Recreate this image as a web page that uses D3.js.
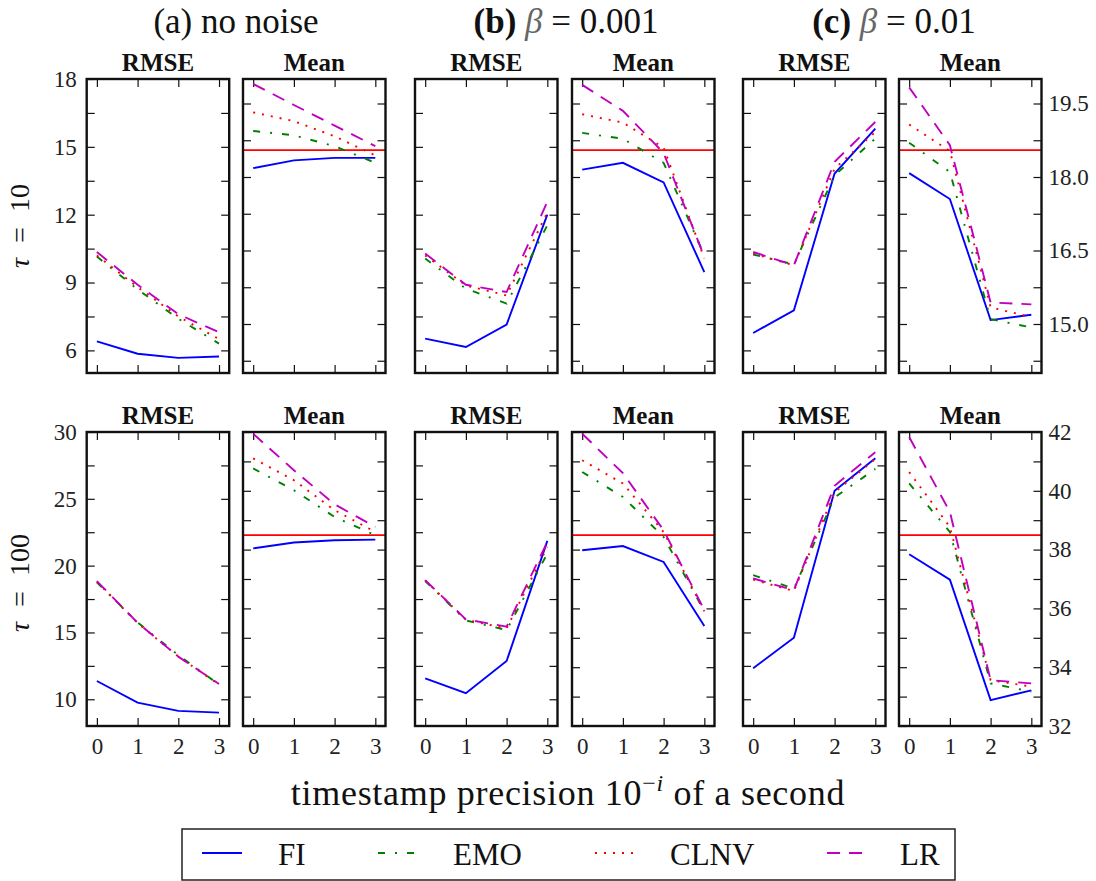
<!DOCTYPE html>
<html>
<head>
<meta charset="utf-8">
<script src="https://cdn.jsdelivr.net/npm/d3@7"></script>
<style>
  html, body { margin: 0; padding: 0; background: #fff; }
  svg { display: block; font-family: "Liberation Serif", "DejaVu Serif", serif; }
</style>
</head>
<body>
<svg id="chart" width="1096" height="881"></svg>
<script>
// ---------------- data ----------------
const precision = [0, 1, 2, 3];
const methods = ["FI", "EMO", "CLNV", "LR"];
const groupTitles = ["no noise", "0.001", "0.01"];
const metricTitles = ["RMSE", "Mean"];
const tauLabels = ["10", "100"];

// series order inside each panel: FI, EMO, CLNV, LR
const rmseTau10NoNoise = [[6.4, 5.85, 5.67, 5.73], [10.15, 8.7, 7.4, 6.3], [10.2, 8.8, 7.5, 6.5], [10.35, 8.9, 7.6, 6.8]];
const rmseTau10Beta001 = [[6.52, 6.15, 7.14, 12.0], [10.06, 8.73, 8.07, 11.53], [10.2, 8.87, 8.43, 12.1], [10.28, 8.9, 8.58, 12.57]];
const rmseTau10Beta01  = [[6.77, 7.77, 13.82, 15.81], [10.24, 9.8, 13.74, 15.37], [10.28, 9.76, 14.04, 15.66], [10.35, 9.76, 14.34, 16.1]];
const meanTau10NoNoise = [[18.18, 18.34, 18.39, 18.39], [18.94, 18.85, 18.63, 18.29], [19.32, 19.14, 18.83, 18.44], [19.9, 19.47, 19.05, 18.63]];
const meanTau10Beta001 = [[18.15, 18.29, 17.89, 16.06], [18.9, 18.78, 18.29, 16.4], [19.28, 19.11, 18.6, 16.34], [19.88, 19.35, 18.49, 16.37]];
const meanTau10Beta01  = [[18.08, 17.55, 15.08, 15.19], [18.7, 18.1, 15.1, 14.93], [19.07, 18.53, 15.34, 15.14], [19.83, 18.65, 15.44, 15.4]];
const rmseTau100NoNoise = [[11.37, 9.75, 9.13, 9.0], [18.75, 15.75, 13.3, 11.1], [18.8, 15.7, 13.2, 11.1], [18.84, 15.73, 13.19, 11.14]];
const rmseTau100Beta001 = [[11.57, 10.45, 12.86, 21.85], [18.85, 15.9, 15.18, 20.9], [18.9, 15.95, 15.3, 21.4], [18.92, 15.98, 15.43, 21.78]];
const rmseTau100Beta01  = [[12.32, 14.6, 25.6, 28.04], [19.29, 18.29, 25.1, 27.24], [18.95, 18.1, 25.48, 27.99], [19.04, 18.16, 25.98, 28.49]];
const meanTau100NoNoise = [[38.04, 38.24, 38.32, 38.34], [40.76, 40.02, 39.11, 38.49], [41.1, 40.36, 39.34, 38.6], [41.94, 40.7, 39.54, 38.77]];
const meanTau100Beta001 = [[37.98, 38.12, 37.58, 35.4], [40.64, 39.79, 38.43, 35.9], [41.04, 40.25, 38.6, 35.9], [41.94, 40.6, 38.66, 35.94]];
const meanTau100Beta01  = [[37.84, 36.98, 32.88, 33.21], [40.25, 38.6, 33.45, 33.17], [40.64, 38.77, 33.56, 33.34], [41.83, 39.28, 33.56, 33.45]];
const trueMean = [18.55, 38.49];

// axis configuration
const rmseDomains = [[5, 18], [8, 30]];
const meanDomains = [[14, 20], [32, 42]];
const rmseTicksTau10 = [6, 7.5, 9, 10.5, 12, 13.5, 15, 16.5, 18];
const rmseLabelsTau10 = [6, 9, 12, 15, 18];
const meanTicksTau10 = [14.25, 15, 15.75, 16.5, 17.25, 18, 18.75, 19.5];
const meanLabelsTau10 = [15.0, 16.5, 18.0, 19.5];
const rmseTicksTau100 = [10, 12.5, 15, 17.5, 20, 22.5, 25, 27.5, 30];
const rmseLabelsTau100 = [10, 15, 20, 25, 30];
const meanTicksTau100 = [32, 33, 34, 35, 36, 37, 38, 39, 40, 41, 42];
const meanLabelsTau100 = [32, 34, 36, 38, 40, 42];

// ---------------- styles / layout ----------------
const seriesColor = { FI: "#0000ff", EMO: "#008000", CLNV: "#ff0000", LR: "#bf00bf" };
const seriesDash = { FI: null, EMO: "7,10,2,10", CLNV: "2,7", LR: "13,9" };

const panelLefts = [86.7, 243, 415, 572, 743, 899];
const panelW = 142.5, panelH = 294;
const rowTops = [79, 432];
const tickLen = 8;

const svg = d3.select("#chart");

const rows = [
  { rmse: [rmseTau10NoNoise, rmseTau10Beta001, rmseTau10Beta01],
    mean: [meanTau10NoNoise, meanTau10Beta001, meanTau10Beta01],
    rmseTicks: rmseTicksTau10, rmseLabels: rmseLabelsTau10,
    meanTicks: meanTicksTau10, meanLabels: meanLabelsTau10, meanFmt: d3.format(".1f") },
  { rmse: [rmseTau100NoNoise, rmseTau100Beta001, rmseTau100Beta01],
    mean: [meanTau100NoNoise, meanTau100Beta001, meanTau100Beta01],
    rmseTicks: rmseTicksTau100, rmseLabels: rmseLabelsTau100,
    meanTicks: meanTicksTau100, meanLabels: meanLabelsTau100, meanFmt: d3.format("d") }
];

rows.forEach((row, r) => {
  const top = rowTops[r];
  for (let g = 0; g < 3; g++) {
    for (let m = 0; m < 2; m++) {
      const p = g * 2 + m;
      const left = panelLefts[p];
      const x = d3.scaleLinear().domain([-0.25, 3.25]).range([left, left + panelW]);
      const domain = m === 0 ? rmseDomains[r] : meanDomains[r];
      const y = d3.scaleLinear().domain(domain).range([top + panelH, top]);
      const yTicks = m === 0 ? row.rmseTicks : row.meanTicks;
      const panelData = m === 0 ? row.rmse[g] : row.mean[g];
      const gp = svg.append("g");

      // inward ticks on all four sides
      const axes = [
        { a: d3.axisLeft(y).tickValues(yTicks), t: `translate(${left},0)` },
        { a: d3.axisRight(y).tickValues(yTicks), t: `translate(${left + panelW},0)` },
        { a: d3.axisTop(x).tickValues(precision), t: `translate(0,${top})` },
        { a: d3.axisBottom(x).tickValues(precision), t: `translate(0,${top + panelH})` }
      ];
      axes.forEach(o => {
        const ag = gp.append("g").attr("transform", o.t)
          .call(o.a.tickSizeInner(-tickLen).tickSizeOuter(0).tickFormat(""));
        ag.select(".domain").remove();
        ag.selectAll("line").attr("stroke", "#111").attr("stroke-width", 1.2);
      });

      // true mean line
      if (m === 1) {
        gp.append("line")
          .attr("x1", left).attr("x2", left + panelW)
          .attr("y1", y(trueMean[r])).attr("y2", y(trueMean[r]))
          .attr("stroke", "#ff0000").attr("stroke-width", 1.8);
      }

      // series lines
      const line = d3.line().x((d, i) => x(precision[i])).y(d => y(d));
      panelData.forEach((vals, si) => {
        const name = methods[si];
        gp.append("path")
          .datum(vals)
          .attr("d", line)
          .attr("fill", "none")
          .attr("stroke", seriesColor[name])
          .attr("stroke-width", 1.9)
          .attr("stroke-dasharray", seriesDash[name]);
      });

      // frame
      gp.append("rect")
        .attr("x", left).attr("y", top).attr("width", panelW).attr("height", panelH)
        .attr("fill", "none").attr("stroke", "#111").attr("stroke-width", 2.4);

      // panel title
      gp.append("text")
        .attr("x", left + panelW / 2).attr("y", top - 8)
        .attr("text-anchor", "middle")
        .attr("font-size", 25).attr("font-weight", "bold").attr("fill", "#111")
        .text(metricTitles[m]);

      // y labels
      if (p === 0) {
        const ag = gp.append("g").attr("transform", `translate(${left},0)`)
          .call(d3.axisLeft(y).tickValues(row.rmseLabels).tickSize(0).tickPadding(10).tickFormat(d3.format("d")));
        ag.select(".domain").remove();
        ag.selectAll("text").attr("font-size", 23).attr("font-family", "Liberation Serif").attr("fill", "#222");
      }
      if (p === 5) {
        const ag = gp.append("g").attr("transform", `translate(${left + panelW},0)`)
          .call(d3.axisRight(y).tickValues(row.meanLabels).tickSize(0).tickPadding(7).tickFormat(row.meanFmt));
        ag.select(".domain").remove();
        ag.selectAll("text").attr("font-size", 23).attr("font-family", "Liberation Serif").attr("fill", "#222");
      }
      // x labels on bottom row
      if (r === 1) {
        const ag = gp.append("g").attr("transform", `translate(0,${top + panelH})`)
          .call(d3.axisBottom(x).tickValues(precision).tickSize(0).tickPadding(12).tickFormat(d3.format("d")));
        ag.select(".domain").remove();
        ag.selectAll("text").attr("font-size", 23).attr("font-family", "Liberation Serif").attr("fill", "#222");
      }
    }
  }
});

// group titles
const groupCenters = [236, 566, 894];
groupTitles.forEach((t, g) => {
  const tx = svg.append("text")
    .attr("x", groupCenters[g]).attr("y", 33)
    .attr("text-anchor", "middle").attr("font-size", 35).attr("fill", "#111");
  if (g === 0) {
    tx.text("(a) " + t);
  } else {
    tx.append("tspan").attr("font-weight", "bold").text(g === 1 ? "(b) " : "(c) ");
    tx.append("tspan").attr("font-style", "italic").attr("fill", "#666").text("β");
    tx.append("tspan").text(" = " + t);
  }
});

// row labels
const rowCenters = [226, 583];
tauLabels.forEach((t, r) => {
  const tx = svg.append("text")
    .attr("transform", `translate(29,${rowCenters[r]}) rotate(-90)`)
    .attr("text-anchor", "middle").attr("font-size", 28).attr("fill", "#111");
  tx.append("tspan").attr("font-style", "italic").text("τ");
  tx.append("tspan").attr("dx", 15).text("=");
  tx.append("tspan").attr("dx", 15).text(t);
});

// x axis title
const xt = svg.append("text")
  .attr("x", 568).attr("y", 805)
  .attr("text-anchor", "middle").attr("font-size", 36).attr("letter-spacing", 0.7).attr("fill", "#111");
xt.append("tspan").text("timestamp precision 10");
xt.append("tspan").attr("dy", -14).attr("font-size", 24).text("−");
xt.append("tspan").attr("font-size", 24).attr("font-style", "italic").text("i");
xt.append("tspan").attr("dy", 14).text(" of a second");

// legend
const legendLineX = [202, 378, 595, 827];
const legendTextX = [278, 453, 670, 900];
const lg = svg.append("g");
lg.append("rect").attr("x", 182).attr("y", 829).attr("width", 773).attr("height", 51)
  .attr("fill", "#fff").attr("stroke", "#222").attr("stroke-width", 1.5);
methods.forEach((name, i) => {
  lg.append("line")
    .attr("x1", legendLineX[i]).attr("x2", legendLineX[i] + 40)
    .attr("y1", 853).attr("y2", 853)
    .attr("stroke", seriesColor[name]).attr("stroke-width", 1.9)
    .attr("stroke-dasharray", seriesDash[name]);
  lg.append("text").attr("x", legendTextX[i]).attr("y", 865)
    .attr("font-size", 31).attr("fill", "#111").text(name);
});
</script>
</body>
</html>
